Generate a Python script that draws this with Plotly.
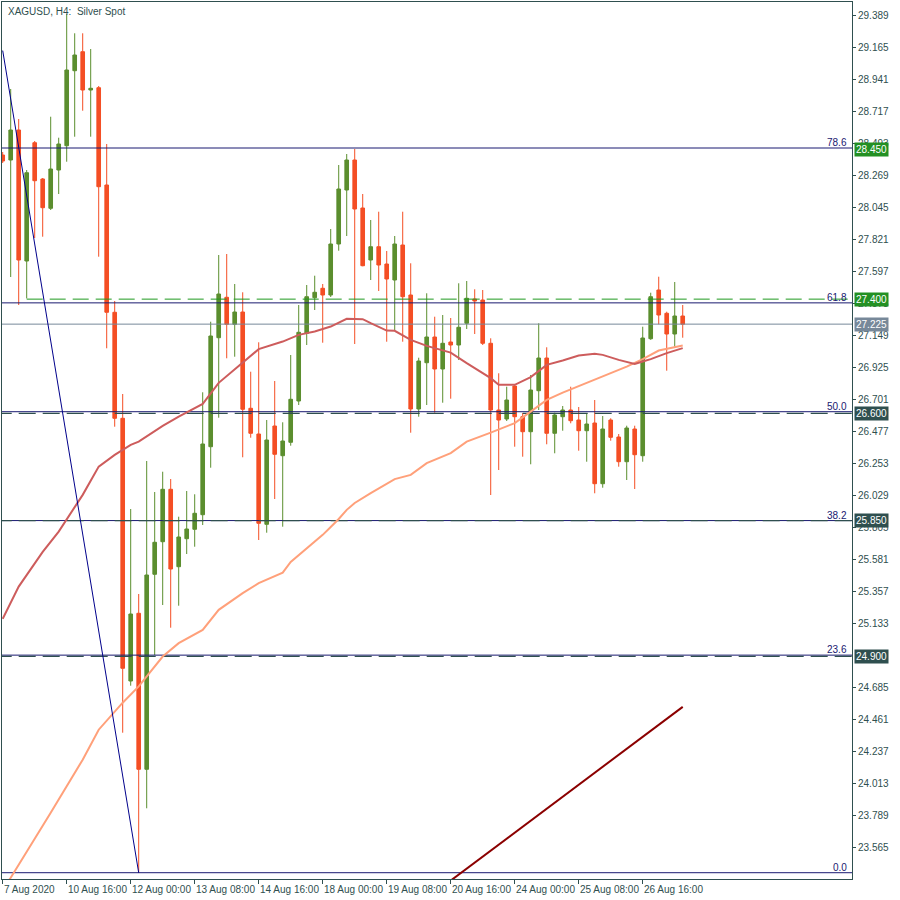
import plotly.graph_objects as go

# ---------------- data ----------------
bars = list(range(86))
opens = [28.409, 28.374, 28.584, 27.667, 28.495, 28.241, 28.036, 28.304, 28.474, 28.999,
         29.132, 28.864, 28.880, 28.199, 27.308, 26.566, 24.727, 25.201, 24.109, 25.474,
         25.702, 26.069, 25.527, 25.723, 25.789, 25.891, 26.367, 27.130, 27.413, 27.224,
         27.310, 26.636, 26.456, 25.824, 26.512, 26.304, 26.398, 26.687, 27.161, 27.410,
         27.476, 27.429, 27.786, 28.164, 28.374, 28.038, 27.674, 27.767, 27.646, 27.534,
         27.779, 27.429, 26.631, 26.955, 27.135, 26.911, 27.100, 27.079, 27.231, 27.401,
         27.394, 27.091, 26.624, 26.561, 26.792, 26.577, 26.472, 26.759, 26.988, 26.461,
         26.577, 26.624, 26.554, 26.479, 26.533, 26.108, 26.554, 26.435, 26.262, 26.491,
         26.304, 27.123, 27.464, 27.301, 27.156, 27.282]
highs = [28.430, 28.871, 28.661, 28.304, 28.507, 28.248, 28.677, 28.530, 29.396, 29.261,
         29.261, 29.151, 28.892, 28.486, 27.387, 26.736, 25.931, 25.336, 26.267, 26.050,
         26.192, 26.141, 25.877, 26.057, 26.034, 26.748, 27.242, 27.709, 27.716, 27.506,
         27.448, 26.892, 27.098, 26.554, 26.827, 26.538, 27.009, 27.359, 27.499, 27.564,
         27.506, 27.891, 28.339, 28.416, 28.451, 28.136, 27.954, 28.012, 27.737, 27.842,
         28.012, 27.651, 26.990, 27.441, 27.277, 27.289, 27.268, 27.511, 27.527, 27.469,
         27.464, 27.126, 26.881, 26.787, 26.799, 26.603, 26.869, 27.231, 27.063, 26.605,
         26.652, 26.787, 26.645, 26.601, 26.694, 26.582, 26.566, 26.456, 26.514, 26.514,
         27.207, 27.445, 27.557, 27.312, 27.520, 27.359]
lows = [28.353, 27.555, 27.359, 27.405, 27.828, 27.837, 28.024, 28.136, 28.362, 28.537,
        28.719, 28.537, 27.697, 27.056, 26.507, 24.365, 24.694, 23.385, 23.836, 24.909,
        25.259, 25.100, 25.254, 25.616, 25.667, 25.819, 26.220, 26.570, 26.986, 26.997,
        26.293, 26.430, 25.714, 25.765, 26.001, 25.807, 26.374, 26.659, 27.079, 27.324,
        27.095, 27.415, 27.739, 27.842, 27.086, 27.630, 27.534, 27.457, 27.102, 27.184,
        27.102, 26.465, 26.577, 26.659, 26.605, 26.675, 26.703, 26.974, 27.191, 27.156,
        27.079, 26.029, 26.204, 26.547, 26.367, 26.297, 26.244, 26.624, 26.384, 26.321,
        26.479, 26.531, 26.339, 26.262, 26.041, 26.080, 26.409, 26.227, 26.134, 26.071,
        26.262, 27.115, 27.224, 26.899, 27.067, 27.130]
closes = [28.367, 28.584, 27.674, 28.285, 28.229, 28.040, 28.311, 28.486, 29.004, 29.109,
          28.864, 28.876, 28.187, 27.308, 26.566, 24.816, 25.196, 24.109, 25.469, 25.698,
          26.069, 25.511, 25.735, 25.791, 25.901, 26.386, 27.142, 27.436, 27.224, 27.310,
          26.629, 26.461, 25.831, 26.414, 26.314, 26.407, 26.699, 27.168, 27.417, 27.448,
          27.429, 27.786, 28.171, 28.374, 28.031, 27.634, 27.767, 27.639, 27.541, 27.786,
          27.417, 26.631, 26.967, 27.135, 26.911, 27.091, 27.079, 27.203, 27.406, 27.387,
          27.091, 26.624, 26.554, 26.694, 26.577, 26.472, 26.764, 26.988, 26.461, 26.589,
          26.624, 26.549, 26.479, 26.526, 26.108, 26.491, 26.433, 26.262, 26.498, 26.311,
          27.128, 27.417, 27.289, 27.156, 27.282, 27.225]

# moving averages (read at sampled bars)
ma_fast_bars = [0, 2, 5, 7, 10, 12, 14, 16, 17, 20, 22, 25, 27, 30, 32, 35, 37, 39, 41, 43,
                45, 46, 48, 49, 51, 53, 56, 58, 61, 62, 64, 66, 68, 70, 72, 74, 75, 77, 79,
                80, 81, 83, 85]
ma_fast = [25.162, 25.388, 25.631, 25.773, 26.030, 26.228, 26.310, 26.380, 26.403, 26.513,
           26.578, 26.667, 26.814, 26.952, 27.050, 27.103, 27.150, 27.173, 27.208, 27.262,
           27.260, 27.232, 27.180, 27.178, 27.115, 27.073, 27.026, 26.952, 26.847, 26.800,
           26.800, 26.854, 26.940, 26.970, 27.005, 27.017, 27.010, 26.975, 26.947, 26.963,
           26.980, 27.022, 27.057]
ma_slow_bars = [0, 1, 6, 10, 12, 15, 17, 20, 22, 25, 27, 30, 32, 35, 36, 40, 41, 42, 43, 44,
                46, 49, 51, 53, 56, 58, 61, 64, 66, 68, 70, 72, 74, 76, 78, 80, 82, 85]
ma_slow = [23.27, 23.350, 23.805, 24.176, 24.386, 24.575, 24.689, 24.898, 24.992, 25.085,
           25.225, 25.342, 25.412, 25.486, 25.560, 25.750, 25.805, 25.861, 25.925, 25.973,
           26.042, 26.140, 26.170, 26.252, 26.322, 26.403, 26.466, 26.532, 26.613, 26.695,
           26.746, 26.793, 26.835, 26.882, 26.928, 26.980, 27.040, 27.075]

# trend lines
trend_bars = [0, 17]
trend_prices = [29.140, 23.385]
channel_bars = [56, 85]
channel_prices = [23.330, 24.546]

# fibonacci levels
fib_labels = ["0.0", "23.6", "38.2", "50.0", "61.8", "78.6"]
fib_prices = [23.385, 24.908, 25.850, 26.612, 27.374, 28.458]

# horizontal levels
dashed_levels = [26.600, 25.850, 24.900]
green_level = 27.400
green_level_start = 3
bid_price = 27.225

# price boxes on the right axis
box_texts = ["28.450", "27.400", "27.225", "26.600", "25.850", "24.900"]
box_prices = [28.450, 27.400, 27.225, 26.600, 25.850, 24.900]
box_kinds = ["green", "green", "bid", "dark", "dark", "dark"]

# axis ticks
price_ticks = [29.389, 29.165, 28.941, 28.717, 28.493, 28.269, 28.045, 27.821, 27.597,
               27.373, 27.149, 26.925, 26.701, 26.477, 26.253, 26.029, 25.805, 25.581,
               25.357, 25.133, 24.685, 24.461, 24.237, 24.013, 23.789, 23.565]
time_tick_bars = [0, 8, 16, 24, 32, 40, 48, 56, 64, 72, 80]
time_tick_labels = ["7 Aug 2020", "10 Aug 16:00", "12 Aug 00:00", "13 Aug 08:00",
                    "14 Aug 16:00", "18 Aug 00:00", "19 Aug 08:00", "20 Aug 16:00",
                    "24 Aug 00:00", "25 Aug 08:00", "26 Aug 16:00"]

# ---------------- style ----------------
UP = "#5b8e2e"
DOWN = "#f44e24"
AXIS = "#2f4f4f"
FIB = "#191970"
FONT = "Liberation Sans"
BOXCOL = {"green": "#239023", "bid": "#778899", "dark": "#2f4f4f"}

fig = go.Figure()

# horizontal lines (drawn below candles)
for p in fib_prices:
    fig.add_trace(go.Scatter(x=[-1, 110], y=[p, p], mode="lines",
                             line=dict(color=FIB, width=1), hoverinfo="skip", showlegend=False))
for p in dashed_levels:
    fig.add_trace(go.Scatter(x=[-1, 110], y=[p, p], mode="lines",
                             line=dict(color=AXIS, width=1.2, dash="17px,7px"),
                             hoverinfo="skip", showlegend=False))
fig.add_trace(go.Scatter(x=[green_level_start, 110], y=[green_level, green_level], mode="lines",
                         line=dict(color="#1f9a1f", width=1, dash="16px,7px"),
                         hoverinfo="skip", showlegend=False))
fig.add_trace(go.Scatter(x=[-1, 110], y=[bid_price, bid_price], mode="lines",
                         line=dict(color="#778899", width=1), hoverinfo="skip", showlegend=False))

# candles
fig.add_trace(go.Candlestick(
    x=bars, open=opens, high=highs, low=lows, close=closes,
    increasing=dict(line=dict(color=UP, width=1), fillcolor=UP),
    decreasing=dict(line=dict(color=DOWN, width=1), fillcolor=DOWN),
    whiskerwidth=0, hoverinfo="skip", showlegend=False))

# moving averages
fig.add_trace(go.Scatter(x=ma_slow_bars, y=ma_slow, mode="lines",
                         line=dict(color="#ffa07a", width=2), hoverinfo="skip", showlegend=False))
fig.add_trace(go.Scatter(x=ma_fast_bars, y=ma_fast, mode="lines",
                         line=dict(color="#cd5c5c", width=2), hoverinfo="skip", showlegend=False))

# trend lines
fig.add_trace(go.Scatter(x=trend_bars, y=trend_prices, mode="lines",
                         line=dict(color="#00008b", width=1), hoverinfo="skip", showlegend=False))
fig.add_trace(go.Scatter(x=channel_bars, y=channel_prices, mode="lines",
                         line=dict(color="#8b0000", width=2), hoverinfo="skip", showlegend=False))

annotations = []
# title
annotations.append(dict(text="XAGUSD, H4:  Silver Spot", xref="paper", yref="paper",
                        x=0, y=1, xanchor="left", yanchor="top", xshift=4, yshift=-2,
                        showarrow=False, font=dict(family=FONT, size=10, color=AXIS)))
# fib labels
for lab, p in zip(fib_labels, fib_prices):
    annotations.append(dict(text=lab, xref="paper", yref="y", x=1, y=p,
                            xanchor="right", yanchor="bottom", xshift=-3, yshift=-2,
                            showarrow=False, font=dict(family=FONT, size=10, color=FIB)))
# price boxes
for t, p, k in zip(box_texts, box_prices, box_kinds):
    annotations.append(dict(text=t, xref="paper", yref="y", x=1, y=p,
                            xanchor="left", yanchor="middle", xshift=2,
                            showarrow=False, bgcolor=BOXCOL[k], borderpad=1,
                            font=dict(family=FONT, size=10, color="white")))
# time labels
for b, t in zip(time_tick_bars, time_tick_labels):
    annotations.append(dict(text=t, xref="x", yref="paper", x=b, y=0,
                            xanchor="left", yanchor="top", xshift=-1, yshift=-3,
                            showarrow=False, font=dict(family=FONT, size=10, color=AXIS)))

fig.update_layout(
    width=900, height=900,
    margin=dict(l=2, r=48, t=2, b=21),
    paper_bgcolor="white", plot_bgcolor="white",
    showlegend=False,
    boxgap=0.35,
    annotations=annotations,
    xaxis=dict(range=[-0.0875, 106.16], showgrid=False, zeroline=False,
               showline=True, mirror=True, linecolor=AXIS, linewidth=1,
               ticks="outside", ticklen=4, tickcolor=AXIS, tickvals=time_tick_bars,
               showticklabels=False, rangeslider=dict(visible=False), fixedrange=True),
    yaxis=dict(range=[23.341, 29.480], side="right", showgrid=False, zeroline=False,
               showline=True, mirror=True, linecolor=AXIS, linewidth=1,
               ticks="outside", ticklen=3, tickcolor=AXIS, tickvals=price_ticks,
               ticktext=[f"{v:.3f}" for v in price_ticks],
               tickfont=dict(family=FONT, size=10, color=AXIS), fixedrange=True),
)

fig.write_html("out.html", config={"displayModeBar": False},
               post_script="document.body.style.margin='0px';document.body.style.overflow='hidden';")
